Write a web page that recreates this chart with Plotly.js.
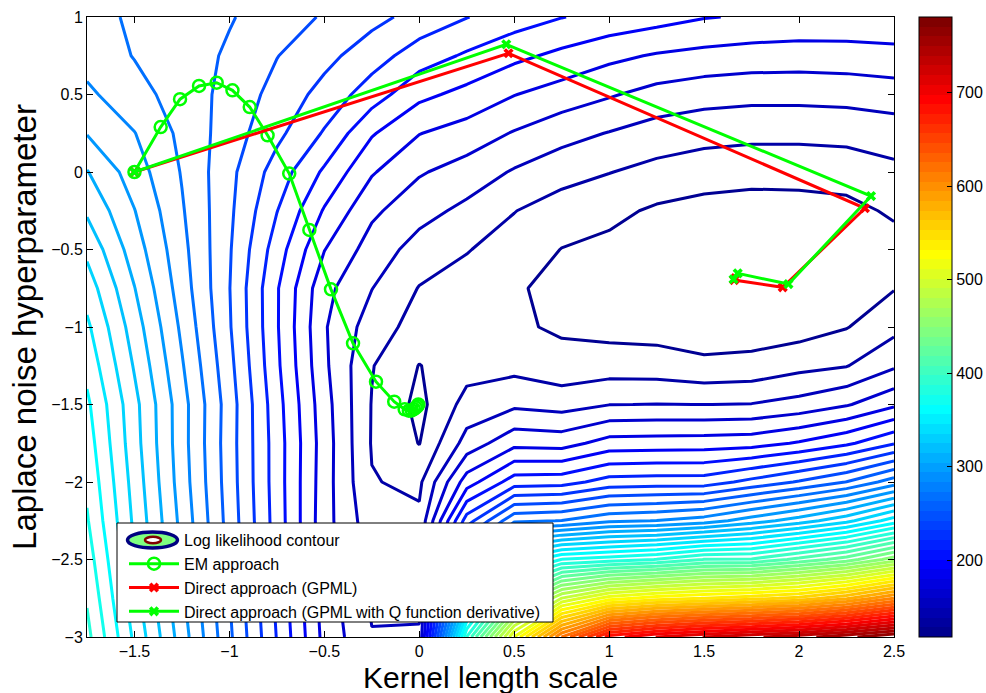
<!DOCTYPE html>
<html>
<head>
<meta charset="utf-8">
<script src="https://cdn.plot.ly/plotly-3.0.1.min.js"></script>
<style>html,body{margin:0;padding:0;background:#fff}#chart{width:986px;height:693px}</style>
</head>
<body>
<div id="chart"></div>
<script>
// ---- grid of the log-likelihood surface ----
const kernelLengthScale = [-1.75, -1.5, -1.25, -1, -0.75, -0.5, -0.25, 0, 0.25, 0.5, 0.75, 1, 1.25, 1.5, 1.75, 2, 2.25, 2.5];
const noiseHyper = [-3, -2.75, -2.5, -2.25, -2, -1.75, -1.5, -1.25, -1, -0.75, -0.5, -0.25, 0, 0.25, 0.5, 0.75, 1];

const zAtYm300 = [394.9, 349.4, 306.5, 263.6, 221.4, 179.1, 157.7, 158.3, 391.4, 521.4, 625.4, 696.5, 716.4, 729.4, 739.4, 749.8, 764.1, 781];
const zAtYm275 = [389.7, 344.2, 302.6, 261.4, 219.4, 177.2, 155.1, 154.4, 326.4, 430.4, 495.4, 527.5, 540.5, 547.4, 554.8, 563.9, 583.4, 612.4];
const zAtYm250 = [384.5, 340.3, 298.7, 258.4, 217.5, 175.9, 152.5, 150.5, 274.4, 352.4, 378.4, 384.5, 391.4, 404.4, 405.5, 420.9, 436.5, 462.5];
const zAtYm225 = [379.3, 336.4, 296.1, 255.8, 216.2, 175.2, 149.2, 146.6, 228.5, 271.4, 274.4, 284.4, 287.4, 293.5, 306.5, 319.5, 335.1, 358.5];
const zAtYm200 = [375.4, 333.8, 293.5, 254.5, 215.5, 175.9, 144.7, 141.4, 189.5, 215.5, 216.8, 227.2, 228.5, 228.5, 238.9, 249.3, 261.4, 280.5];
const zAtYm175 = [371.5, 331.2, 292.2, 253.9, 215.5, 176.5, 143.1, 130.6, 162.2, 179.1, 177.8, 188.2, 188.9, 189.5, 190.8, 197.3, 206.4, 220.7];
const zAtYm150 = [367.6, 329.9, 292.2, 254.5, 214.2, 175.2, 143.4, 127.4, 148.7, 154.4, 151.8, 156.7, 157.3, 156.9, 157.5, 161.6, 168.7, 180.4];
const zAtYm125 = [361.1, 324.7, 288.3, 251.9, 211.6, 172.6, 144.7, 130.6, 138.8, 140.1, 135.6, 137.5, 136.9, 133.6, 134.9, 140.1, 143.4, 155.1];
const zAtYm100 = [354.6, 319.5, 284.4, 249.3, 210.3, 171.3, 150.5, 138.8, 136.2, 133.0, 129.1, 126.5, 125.8, 124.5, 124.5, 125.2, 130.4, 140.1];
const zAtYm075 = [346.2, 313.4, 280.5, 248.4, 210.3, 173.9, 157.3, 143.4, 138.8, 132.6, 127.1, 125.2, 121.9, 119.3, 118.0, 118.7, 121.9, 130.4];
const zAtYm050 = [335.8, 306.5, 277.9, 249.3, 215.5, 183.4, 164.2, 151.8, 144.7, 138.2, 130.7, 127.8, 123.2, 121.3, 120.0, 120.6, 121.9, 125.8];
const zAtYm025 = [324.1, 300.4, 275.3, 250.6, 222.4, 194.7, 172.6, 161.6, 153.8, 144.4, 137.5, 134.3, 129.1, 126.5, 125.2, 125.8, 127.1, 133.0];
const zAtY000  = [313.7, 293.5, 273.1, 251.5, 229.2, 206.8, 184.3, 171.3, 164.4, 155.7, 149.2, 144.4, 140.1, 136.9, 135.6, 135.6, 136.9, 140.8];
const zAtY025  = [299.4, 287.4, 270.9, 254.5, 238.3, 220.7, 197.3, 183.4, 177.4, 169.0, 161.6, 156.4, 151.2, 148.6, 147.3, 147.3, 147.9, 150.5];
const zAtY050  = [289.6, 278.7, 268.4, 256.7, 243.5, 230.5, 215.5, 199.3, 192.1, 183.4, 177.2, 171.3, 165.5, 162.2, 160.9, 160.9, 161.6, 163.5];
const zAtY075  = [281.8, 273.4, 267.5, 259.1, 248.4, 238.9, 227.9, 215.5, 207.2, 199.3, 192.8, 186.3, 181.7, 179.1, 177.2, 176.5, 177.2, 178.7];
const zAtY100  = [277.9, 272.3, 267.5, 262.0, 254.5, 246.7, 238.9, 230.5, 222.4, 215.5, 209.4, 205.1, 201.2, 196.7, 194.7, 193.4, 192.8, 192.8];

// ---- optimisation paths ----
const emX = [-1.5, -1.362, -1.26, -1.16, -1.067, -0.984, -0.893, -0.799, -0.685, -0.579, -0.465, -0.349, -0.228, -0.132, -0.077, -0.055, -0.04, -0.028, -0.018, -0.01, -0.005];
const emY = [0, 0.29, 0.47, 0.555, 0.576, 0.527, 0.419, 0.237, -0.01, -0.374, -0.757, -1.105, -1.353, -1.482, -1.531, -1.54, -1.538, -1.53, -1.52, -1.51, -1.5];
const gpmlX = [-1.5, 0.47, 2.347, 1.914, 1.658, 1.665];
const gpmlY = [0, 0.766, -0.234, -0.744, -0.697, -0.685];
const gpmlQX = [-1.5, 0.458, 2.379, 1.944, 1.677, 1.655];
const gpmlQY = [0, 0.824, -0.155, -0.723, -0.654, -0.692];

// ---- levels, ticks, labels ----
const levelStart = 131, levelEnd = 768, levelStep = 13;
const colorMin = 118, colorMax = 781;
const colorbarTicks = [200, 300, 400, 500, 600, 700];
const xTicks = [-1.5, -1, -0.5, 0, 0.5, 1, 1.5, 2, 2.5];
const yTicks = [-3, -2.5, -2, -1.5, -1, -0.5, 0, 0.5, 1];
const seriesNames = ['Log likelihood contour', 'EM approach', 'Direct approach (GPML)', 'Direct approach (GPML with Q function derivative)'];
const xTitle = 'Kernel length scale';
const yTitle = 'Laplace noise hyperparameter';

const zRows = [zAtYm300, zAtYm275, zAtYm250, zAtYm225, zAtYm200, zAtYm175, zAtYm150, zAtYm125, zAtYm100,
               zAtYm075, zAtYm050, zAtYm025, zAtY000, zAtY025, zAtY050, zAtY075, zAtY100];

// MATLAB-style jet colormap
function jet(v) {
  const c = t => Math.max(0, Math.min(1, t));
  const r = c(1.5 - Math.abs(4 * v - 3)), g = c(1.5 - Math.abs(4 * v - 2)), b = c(1.5 - Math.abs(4 * v - 1));
  return 'rgb(' + Math.round(r * 255) + ',' + Math.round(g * 255) + ',' + Math.round(b * 255) + ')';
}
const nBands = 64;
const jetStepped = [];
for (let i = 0; i < nBands; i++) {
  const col = jet((i + 1) / nBands);
  jetStepped.push([i / nBands, col]);
  jetStepped.push([(i + 1) / nBands, col]);
}
// contour 'lines' colouring spans first..last level; remap so colours follow [colorMin,colorMax]
const lineScale = [];
for (let i = 0; i <= 100; i++) {
  const t = i / 100;
  const zv = levelStart + t * (levelEnd - levelStart);
  lineScale.push([t, jet((zv - colorMin) / (colorMax - colorMin))]);
}

const FONT = 'Liberation Sans, Arial, Helvetica, sans-serif';

const traces = [
  {
    type: 'contour', x: kernelLengthScale, y: noiseHyper, z: zRows,
    autocontour: false,
    contours: {start: levelStart, end: levelEnd, size: levelStep, coloring: 'lines'},
    colorscale: lineScale, showscale: false,
    line: {width: 3, smoothing: 0},
    showlegend: false, hoverinfo: 'skip'
  },
  { // colour bar carrier
    type: 'scatter', x: [null], y: [null], mode: 'markers', showlegend: false, hoverinfo: 'skip',
    marker: {color: [colorMin], cmin: colorMin, cmax: colorMax, colorscale: jetStepped, showscale: true,
      colorbar: {x: 1.031, xanchor: 'left', xpad: 0, y: 0.5, yanchor: 'middle', len: 1, lenmode: 'fraction', ypad: 0,
        thickness: 33, thicknessmode: 'pixels', outlinewidth: 1, outlinecolor: '#000', borderwidth: 0,
        tickvals: colorbarTicks, ticks: 'inside', ticklen: 5, tickcolor: '#000',
        tickfont: {family: FONT, size: 16, color: '#000'}}}
  },
  { // legend entry for the contour
    type: 'scatter', x: [null], y: [null], mode: 'lines', name: seriesNames[0],
    line: {color: 'rgba(0,0,0,0)', width: 0}, hoverinfo: 'skip'
  },
  {
    type: 'scatter', x: emX, y: emY, mode: 'lines+markers', name: seriesNames[1],
    line: {color: '#00ff00', width: 3},
    marker: {symbol: 'circle-open', size: 12, color: '#00ff00', line: {width: 2.5}}
  },
  {
    type: 'scatter', x: gpmlX, y: gpmlY, mode: 'lines+markers', name: seriesNames[2],
    line: {color: '#ff0000', width: 3},
    marker: {symbol: 'x', size: 9, color: '#ff0000'}
  },
  {
    type: 'scatter', x: gpmlQX, y: gpmlQY, mode: 'lines+markers', name: seriesNames[3],
    line: {color: '#00ff00', width: 3},
    marker: {symbol: 'x', size: 9, color: '#00ff00'}
  }
];

// legend box + contour icon (paper coordinates)
const W = 807, H = 620, L = 87, B = 637;
const px = v => (v - L) / W, py = v => (B - v) / H;
const shapes = [
  {type: 'rect', xref: 'paper', yref: 'paper', x0: px(117), x1: px(553), y0: py(622), y1: py(523),
   fillcolor: '#fff', line: {color: '#000', width: 1}, layer: 'above'},
  {type: 'circle', xref: 'paper', yref: 'paper', x0: px(127.5), x1: px(177.5), y0: py(548), y1: py(532),
   fillcolor: '#80ff80', line: {color: '#000080', width: 3.5}, layer: 'above'},
  {type: 'circle', xref: 'paper', yref: 'paper', x0: px(145), x1: px(161), y0: py(543.2), y1: py(536.8),
   fillcolor: '#fff', line: {color: '#800000', width: 2.6}, layer: 'above'}
];

const axisCommon = {
  ticks: 'inside', ticklen: 6, tickwidth: 1, tickcolor: '#000',
  showline: true, linecolor: '#000', linewidth: 1, mirror: 'ticks',
  showgrid: false, zeroline: false,
  tickfont: {family: FONT, size: 16, color: '#000'}
};

const layout = {
  width: 986, height: 693,
  margin: {l: 87, r: 92, t: 17, b: 56, pad: 0, autoexpand: false},
  paper_bgcolor: '#fff', plot_bgcolor: '#fff',
  font: {family: FONT, color: '#000'},
  hovermode: false,
  xaxis: Object.assign({}, axisCommon, {range: [-1.75, 2.5], tickvals: xTicks}),
  yaxis: Object.assign({}, axisCommon, {range: [-3, 1], tickvals: yTicks,
    title: {text: yTitle, font: {family: FONT, size: 33, color: '#000'}, standoff: 4}}),
  annotations: [
    {text: xTitle, xref: 'paper', yref: 'paper', x: 0.5, y: py(659.5), xanchor: 'center', yanchor: 'top',
     showarrow: false, font: {family: FONT, size: 30, color: '#000'}, borderpad: 0}
  ],
  showlegend: true,
  legend: {x: px(124), y: py(523), xanchor: 'left', yanchor: 'top', bgcolor: 'rgba(0,0,0,0)', borderwidth: 0,
    font: {family: FONT, size: 16, color: '#000'}, itemwidth: 50, tracegroupgap: 0},
  shapes: shapes
};

Plotly.newPlot('chart', traces, layout, {displayModeBar: false, staticPlot: true});
</script>
</body>
</html>
